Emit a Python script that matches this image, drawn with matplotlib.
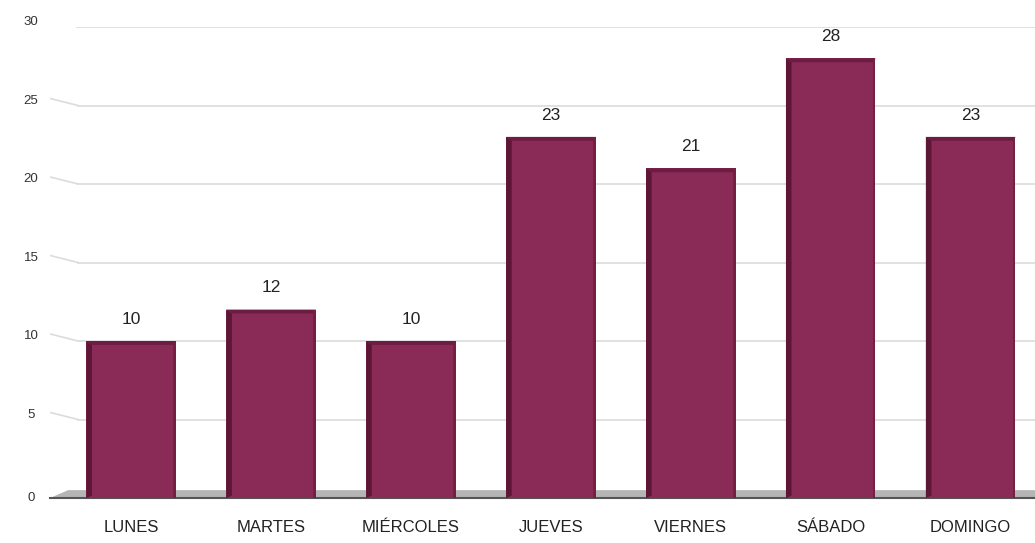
import matplotlib
matplotlib.use("Agg")
import matplotlib.pyplot as plt
from matplotlib.patches import Polygon, Rectangle

categories = ["LUNES", "MARTES", "MIÉRCOLES", "JUEVES", "VIERNES", "SÁBADO", "DOMINGO"]
values = [10, 12, 10, 23, 21, 28, 23]
yticks = [0, 5, 10, 15, 20, 25, 30]

plt.rcParams['font.family'] = ['Liberation Sans', 'DejaVu Sans']

W, H = 1035, 543
fig = plt.figure(figsize=(W / 100, H / 100), dpi=100)
ax = fig.add_axes([50 / W, (H - 498) / H, 985 / W, (498 - 27) / H])
ax.set_xlim(-0.58, 6.46)
ax.set_ylim(0, 30)
ax.axis('off')

# gridlines with slanted start
for v in yticks[1:]:
    ax.plot([-0.58, -0.38], [v + 0.45, v], color='#dcdcdc', lw=1.2, zorder=1)
    ax.plot([-0.38, 6.46], [v, v], color='#dcdcdc', lw=1.2, zorder=1)
    ax.text(-0.715, v + 0.3, str(v), ha='center', va='center', fontsize=9.5,
            color='#333333', clip_on=False)
ax.text(-0.715, 0.0, "0", ha='center', va='center', fontsize=9.5, color='#333333', clip_on=False)

# floor
floor = Polygon([(-0.58, 0), (-0.45, 0.5), (6.46, 0.5), (6.46, 0)], closed=True,
                facecolor='#b5b5b5', edgecolor='none', zorder=2, clip_on=False)
ax.add_patch(floor)
ax.plot([-0.58, 6.46], [0, 0], color='#555555', lw=1.5, zorder=2, clip_on=False)

bw = 0.64
side = 0.04
face = '#8a2b57'
dark = '#5e1636'
for i, (c, v) in enumerate(zip(categories, values)):
    x0 = i - bw / 2
    ax.bar(i, v, width=bw, color=face, edgecolor='none', zorder=3)
    # left dark side
    ax.add_patch(Polygon([(x0, 0), (x0, v), (x0 + side, v - 0.25), (x0 + side, 0.15)],
                         closed=True, facecolor=dark, edgecolor='none', zorder=4))
    # top cap
    ax.add_patch(Polygon([(x0, v), (x0 + bw, v), (x0 + bw - 0.01, v - 0.25), (x0 + side, v - 0.25)],
                         closed=True, facecolor='#6d1c42', edgecolor='none', zorder=4))
    # right edge
    ax.add_patch(Rectangle((x0 + bw - 0.02, 0), 0.02, v, facecolor='#74203f',
                           edgecolor='none', zorder=4))
    ax.text(i, v + 0.9, str(v), ha='center', va='bottom', fontsize=12.5, color='#222222')
    ax.text(i, -1.85, c, ha='center', va='center', fontsize=12, color='#222222', clip_on=False)

fig.savefig("out.png", dpi=100)
